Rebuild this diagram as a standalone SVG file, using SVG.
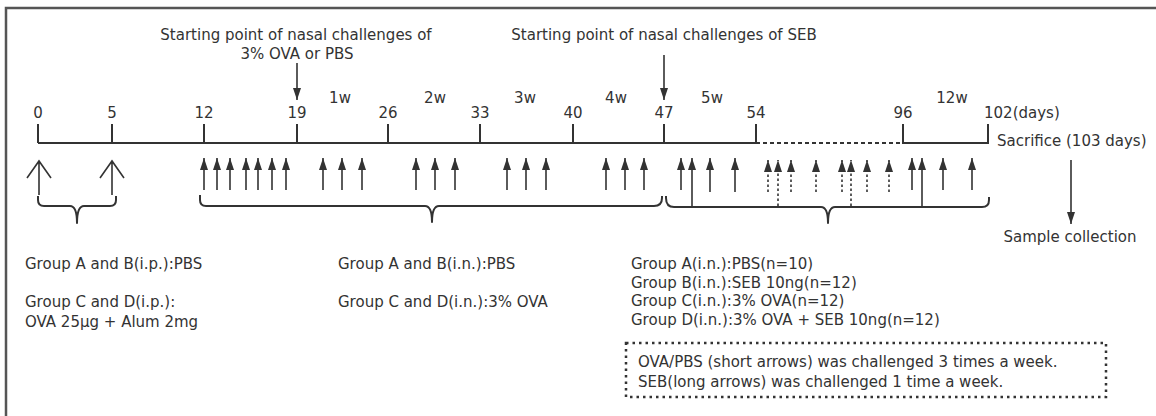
<svg xmlns="http://www.w3.org/2000/svg" width="1156" height="416" viewBox="0 0 1156 416">
<defs>
<style>
text{font-family:"DejaVu Sans","Open Sans",sans-serif;font-size:15px;fill:#333}
.mid{text-anchor:middle}
.ln{stroke:#333;stroke-width:2;fill:none}
.ar{stroke:#333;stroke-width:1.6;fill:none}
.da{stroke:#333;stroke-width:1.6;fill:none;stroke-dasharray:2.5 2.5}
.br{stroke:#333;stroke-width:2;fill:none;stroke-linejoin:round}
</style>
<marker id="ah" viewBox="0 0 12 8" refX="12" refY="4" markerWidth="12" markerHeight="8" markerUnits="userSpaceOnUse" orient="auto">
<path d="M0,0 L12,4 L0,8 z" fill="#333"/>
</marker>
</defs>
<rect width="1156" height="416" fill="#fff"/>
<path d="M6,420 L6,8 L1160,8" stroke="#555" stroke-width="2.5" fill="none"/>

<g id="titles">
<text class="mid" x="296" y="40">Starting point of nasal challenges of</text>
<text class="mid" x="297" y="59">3% OVA or PBS</text>
<text class="mid" x="664" y="40">Starting point of nasal challenges of SEB</text>
</g>

<g id="timeline">
<path class="ln" d="M38,143 L756,143 M38,124 V143 M112,124 V143 M204,124 V143 M297,124 V143 M388,124 V143 M480,124 V143 M573,124 V143 M664,124 V143 M756,124 V143"/>
<path class="ln" d="M756,143 L903,143" stroke-dasharray="4 3"/>
<path class="ln" d="M903,124 V143 H988 V124"/>
<text class="mid" x="38" y="118">0</text>
<text class="mid" x="112" y="118">5</text>
<text class="mid" x="204" y="118">12</text>
<text class="mid" x="297" y="118">19</text>
<text class="mid" x="388" y="118">26</text>
<text class="mid" x="480" y="118">33</text>
<text class="mid" x="573" y="118">40</text>
<text class="mid" x="664" y="118">47</text>
<text class="mid" x="756" y="118">54</text>
<text class="mid" x="903" y="118">96</text>
<text x="984" y="118">102(days)</text>
<text class="mid" x="340" y="103">1w</text>
<text class="mid" x="435" y="103">2w</text>
<text class="mid" x="525" y="103">3w</text>
<text class="mid" x="616" y="103">4w</text>
<text class="mid" x="712" y="103">5w</text>
<text class="mid" x="952" y="103">12w</text>
<text x="997" y="146">Sacrifice (103 days)</text>
<text class="mid" x="1070" y="242">Sample collection</text>
</g>

<g id="connectors">
<line class="ar" x1="297" y1="63" x2="297" y2="100" marker-end="url(#ah)"/>
<line class="ar" x1="664" y1="55" x2="664" y2="100" marker-end="url(#ah)"/>
<line class="ar" x1="1071" y1="160" x2="1071" y2="224" marker-end="url(#ah)"/>
<path class="ar" d="M39,195 V161 M27,178 L39,161 L51,178"/>
<path class="ar" d="M112,195 V161 M100,178 L112,161 L124,178"/>
<g marker-end="url(#ah)">
<line class="ar" x1="204" y1="190" x2="204" y2="158"/>
<line class="ar" x1="217" y1="190" x2="217" y2="158"/>
<line class="ar" x1="230" y1="190" x2="230" y2="158"/>
<line class="ar" x1="246" y1="190" x2="246" y2="158"/>
<line class="ar" x1="258" y1="190" x2="258" y2="158"/>
<line class="ar" x1="272" y1="190" x2="272" y2="158"/>
<line class="ar" x1="286" y1="190" x2="286" y2="158"/>
<line class="ar" x1="323" y1="190" x2="323" y2="158"/>
<line class="ar" x1="342" y1="190" x2="342" y2="158"/>
<line class="ar" x1="362" y1="190" x2="362" y2="158"/>
<line class="ar" x1="416" y1="190" x2="416" y2="158"/>
<line class="ar" x1="435" y1="190" x2="435" y2="158"/>
<line class="ar" x1="455" y1="190" x2="455" y2="158"/>
<line class="ar" x1="507" y1="190" x2="507" y2="158"/>
<line class="ar" x1="526" y1="190" x2="526" y2="158"/>
<line class="ar" x1="546" y1="190" x2="546" y2="158"/>
<line class="ar" x1="606" y1="190" x2="606" y2="158"/>
<line class="ar" x1="625" y1="190" x2="625" y2="158"/>
<line class="ar" x1="644" y1="190" x2="644" y2="158"/>
<line class="ar" x1="681" y1="190" x2="681" y2="158"/>
<line class="ar" x1="710" y1="192" x2="710" y2="158"/>
<line class="ar" x1="735" y1="192" x2="735" y2="158"/>
<line class="ar" x1="912" y1="190" x2="912" y2="158"/>
<line class="ar" x1="943" y1="190" x2="943" y2="158"/>
<line class="ar" x1="972" y1="190" x2="972" y2="158"/>
<line class="ar" x1="692" y1="206" x2="692" y2="158"/>
<line class="ar" x1="922" y1="206" x2="922" y2="158"/>
<line class="da" x1="768" y1="192" x2="768" y2="160"/>
<line class="da" x1="791" y1="192" x2="791" y2="160"/>
<line class="da" x1="816" y1="192" x2="816" y2="160"/>
<line class="da" x1="842" y1="192" x2="842" y2="160"/>
<line class="da" x1="867" y1="192" x2="867" y2="160"/>
<line class="da" x1="889" y1="192" x2="889" y2="160"/>
<line class="da" x1="778" y1="206" x2="778" y2="160"/>
<line class="da" x1="851" y1="206" x2="851" y2="160"/>
</g>
<path class="br" d="M38,196 V200 Q38,206 44,206 H70 Q77,206 77,223 Q77,206 84,206 H110 Q116,206 116,200 V196"/>
<path class="br" d="M200,195 V200 Q200,206 206,206 H425 Q432,206 432,222 Q432,206 439,206 H654 Q662,206 662,198 V196"/>
<path class="br" d="M666,196 V198 Q666,207 674,207 H821 Q828,207 828,223 Q828,207 835,207 H982 Q989,207 989,200 V197"/>
</g>

<g id="notes">
<text x="25" y="269">Group A and B(i.p.):PBS</text>
<text x="25" y="307">Group C and D(i.p.):</text>
<text x="25" y="327">OVA 25μg + Alum 2mg</text>
<text x="338" y="269">Group A and B(i.n.):PBS</text>
<text x="338" y="307">Group C and D(i.n.):3% OVA</text>
<text x="631" y="269">Group A(i.n.):PBS(n=10)</text>
<text x="631" y="287.5">Group B(i.n.):SEB 10ng(n=12)</text>
<text x="631" y="306">Group C(i.n.):3% OVA(n=12)</text>
<text x="631" y="324.5">Group D(i.n.):3% OVA + SEB 10ng(n=12)</text>
</g>

<g id="legend">
<rect x="626" y="343" width="480" height="54" fill="none" stroke="#333" stroke-width="2.5" stroke-dasharray="2.5 4"/>
<text x="638" y="367">OVA/PBS (short arrows) was challenged 3 times a week.</text>
<text x="638" y="387">SEB(long arrows) was challenged 1 time a week.</text>
</g>
</svg>
